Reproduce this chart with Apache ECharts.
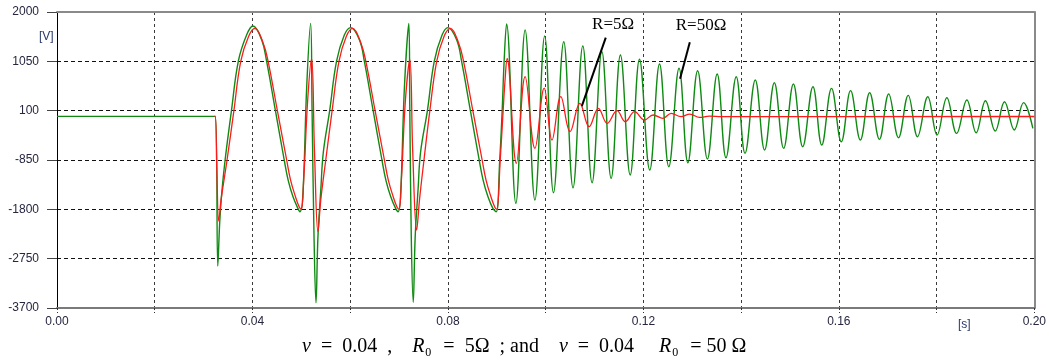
<!DOCTYPE html>
<html><head><meta charset="utf-8">
<script src="https://cdn.jsdelivr.net/npm/echarts@6/dist/echarts.min.js"></script>
<style>html,body{margin:0;padding:0;background:#fff}#c{width:1049px;height:364px}</style>
</head><body><div id="c"></div>
<script>
// ---- tick labels ----
const yTicks = [-3700, -2750, -1800, -850, 100, 1050, 2000];
const xTickLabels = ['0.00', '0.04', '0.08', '0.12', '0.16', '0.20'];
const xGridStep = 0.02;

// ---- R0 = 50 Ohm (green) : [time s, voltage V] ----
const greenStart = [[0, -10], [0.0324, -10]];
const greenHumps = [
  [0.0329, -2890], [0.0333, -2050], [0.0337, -1500], [0.0344, -850], [0.0357, 100], [0.0371, 1050], [0.0388, 1557], [0.0401, 1730],
  [0.0419, 1461], [0.0429, 1050], [0.0447, 100], [0.0465, -850], [0.0473, -1236], [0.0483, -1557], [0.0493, -1781], [0.0497, -1846],
  [0.0503, -1550], [0.0511, 560], [0.0519, 1780], [0.0522, 100], [0.0526, -2330], [0.0530, -3600],
  [0.0534, -2330], [0.0540, -1400], [0.0545, -700], [0.0558, 100], [0.0572, 1050], [0.0588, 1557], [0.0601, 1700],
  [0.0619, 1461], [0.0629, 1050], [0.0647, 100], [0.0665, -850], [0.0673, -1236], [0.0683, -1557], [0.0693, -1781], [0.0698, -1846],
  [0.0703, -1550], [0.0711, 560], [0.0720, 1780], [0.0722, 100], [0.0725, -2330], [0.0729, -3590],
  [0.0733, -2330], [0.0739, -1400], [0.0744, -700], [0.0758, 100], [0.0772, 1050], [0.0788, 1557], [0.0800, 1700],
  [0.0818, 1461], [0.0828, 1050], [0.0846, 100], [0.0864, -850], [0.0872, -1236], [0.0882, -1557], [0.0892, -1781], [0.0899, -1846],
  [0.0906, -850], [0.0911, 100], [0.0915, 1050]
];
const greenRinging = [
  [0.0920, 1769], [0.0939, -1684], [0.0958, 1653], [0.0978, -1621], [0.0998, 1538], [0.1016, -1480], [0.1037, 1428], [0.1056, -1384],
  [0.1076, 1345], [0.1095, -1288], [0.1115, 1236], [0.1134, -1203], [0.1153, 1172], [0.1173, -1139], [0.1192, 1089], [0.1213, -1043],
  [0.1233, 998], [0.1252, -979], [0.1273, 916], [0.1291, -902], [0.1311, 870], [0.1331, -831], [0.1351, 806], [0.1369, -806],
  [0.1390, 754], [0.1408, -722], [0.1429, 690], [0.1448, -658], [0.1468, 639], [0.1487, -625], [0.1507, 613], [0.1526, -594],
  [0.1547, 562], [0.1565, -562], [0.1585, 530], [0.1605, -498], [0.1624, 485], [0.1644, -465], [0.1663, 446], [0.1683, -452],
  [0.1702, 421], [0.1722, -421], [0.1742, 395], [0.1761, -401], [0.1782, 369], [0.1801, -369], [0.1821, 350], [0.1841, -337],
  [0.1862, 305], [0.1881, -325], [0.1900, 292], [0.1920, -292], [0.1939, 273], [0.1959, -273], [0.1978, 254], [0.1997, -240]
];

// ---- R0 = 5 Ohm (red) ----
const redStart = [[0.0322, -10], [0.0324, -10]];
const redHumps = [
  [0.0327, -1000], [0.0331, -2025], [0.0336, -1600], [0.0348, -850], [0.0362, 100], [0.0376, 1050], [0.0392, 1530], [0.0405, 1686],
  [0.0422, 1400], [0.0432, 1050], [0.0451, 100], [0.0470, -850], [0.0478, -1236], [0.0488, -1557], [0.0496, -1760], [0.0500, -1800],
  [0.0505, -1200], [0.0513, 300], [0.0521, 1108], [0.0527, -700], [0.0534, -2231],
  [0.0540, -1600], [0.0550, -850], [0.0563, 100], [0.0577, 1050], [0.0592, 1530], [0.0605, 1686],
  [0.0622, 1400], [0.0632, 1050], [0.0651, 100], [0.0670, -850], [0.0678, -1236], [0.0688, -1557], [0.0696, -1760], [0.0700, -1800],
  [0.0705, -1200], [0.0713, 300], [0.0722, 1089], [0.0728, -700], [0.0736, -2199],
  [0.0742, -1600], [0.0751, -850], [0.0763, 100], [0.0777, 1050], [0.0792, 1530], [0.0805, 1686],
  [0.0822, 1400], [0.0832, 1050], [0.0851, 100], [0.0870, -850], [0.0878, -1236], [0.0888, -1557], [0.0896, -1760], [0.0900, -1800],
  [0.0907, -850], [0.0913, 100], [0.0917, 700]
];
const redRinging = [
  [0.0921, 1108], [0.0940, -914], [0.0958, 754], [0.0978, -625], [0.0997, 536], [0.1013, -465], [0.1031, 369], [0.1050, -305],
  [0.1070, 242], [0.1089, -209], [0.1108, 146], [0.1126, -144], [0.1146, 100], [0.1163, -113], [0.1182, 81], [0.1202, -80],
  [0.1220, 17], [0.1240, -47], [0.1257, 49], [0.1277, -16], [0.1295, 35], [0.1315, -30], [0.1335, -5], [0.1360, -15], [0.2000, -12]
];

// ---- annotations (data coordinates) ----
const annoLabels = ['R=5Ω', 'R=50Ω'];
const annoLabelAt = [[0.1138, 1759], [0.1318, 1730]];
const annoLines = [
  [[0.1123, 1505], [0.1074, 189]],
  [[0.1295, 1416], [0.1275, 715]]
];

const green = greenStart.concat(greenHumps, greenRinging);
const red = redStart.concat(redHumps, redRinging);

const serif = 'Liberation Serif, Times New Roman, serif';
const labelFont = { fontFamily: 'Liberation Sans, Arial, sans-serif', fontSize: 12, color: '#262640' };

const chart = echarts.init(document.getElementById('c'), null, { renderer: 'canvas' });
chart.setOption({
  animation: false,
  backgroundColor: '#fff',
  grid: { left: 57, right: 14, top: 12, bottom: 56, containLabel: false },
  xAxis: [{
    type: 'value', min: 0, max: 0.2, interval: xGridStep,
    axisLine: { show: true, onZero: false, lineStyle: { color: '#7a7a7a', width: 2 } },
    axisTick: { show: true, length: 5, lineStyle: { color: '#333', type: [2, 2] } },
    axisLabel: Object.assign({ margin: 8, formatter: v => { const s = v.toFixed(2); return xTickLabels.includes(s) ? s : ''; } }, labelFont),
    splitLine: { show: true, lineStyle: { color: '#3a3a3a', type: [3, 3], width: 1 } }
  }, {
    type: 'value', position: 'top', min: 0, max: 0.2,
    axisLine: { show: true, onZero: false, lineStyle: { color: '#8a8a8a', width: 2 } },
    axisTick: { show: false }, axisLabel: { show: false }, splitLine: { show: false }
  }],
  yAxis: [{
    type: 'value', min: yTicks[0], max: yTicks[yTicks.length - 1], interval: yTicks[1] - yTicks[0],
    axisLine: { show: true, onZero: false, lineStyle: { color: '#000', width: 1 } },
    axisTick: { show: true, length: 10, lineStyle: { color: '#444' } },
    axisLabel: Object.assign({ margin: 18, formatter: v => String(v) }, labelFont),
    splitLine: { show: true, lineStyle: { color: '#111', type: [4, 3], width: 1 } }
  }, {
    type: 'value', position: 'right', min: yTicks[0], max: yTicks[yTicks.length - 1],
    axisLine: { show: true, onZero: false, lineStyle: { color: '#8a8a8a', width: 2 } },
    axisTick: { show: false }, axisLabel: { show: false }, splitLine: { show: false }
  }],
  series: [{
    name: 'R=50Ω', type: 'line', data: green, smooth: 0.4, showSymbol: false, symbol: 'none',
    lineStyle: { color: '#0f8a12', width: 1.4 }, z: 3
  }, {
    name: 'R=5Ω', type: 'line', data: red, smooth: 0.4, showSymbol: false, symbol: 'none',
    lineStyle: { color: '#ff1a1a', width: 1.3 }, z: 4,
    markLine: {
      silent: true, symbol: ['none', 'none'], animation: false,
      lineStyle: { color: '#000', width: 2, type: 'solid' }, label: { show: false },
      data: annoLines.map(l => [{ coord: l[0] }, { coord: l[1] }])
    },
    markPoint: {
      silent: true, symbol: 'circle', symbolSize: 1, itemStyle: { color: 'rgba(0,0,0,0)' }, animation: false,
      label: { show: true, position: 'inside', formatter: p => p.name, fontFamily: serif, fontSize: 17, color: '#000' },
      data: annoLabels.map((t, i) => ({ name: t, coord: annoLabelAt[i] }))
    }
  }],
  graphic: [
    { type: 'text', left: 39, top: 31, style: { text: '[V]', fontFamily: 'Liberation Sans, Arial', fontSize: 12, fill: '#2a3a6a' } },
    { type: 'text', left: 958, top: 319, style: { text: '[s]', fontFamily: 'Liberation Sans, Arial', fontSize: 12, fill: '#2a3a6a' } },
    { type: 'text', left: 302, top: 337, style: {
        text: '{i|ν}  =  0.04  ,    {i|R}{s|0}  =  5Ω  ; and    {i|ν}  =  0.04     {i|R}{s|0}  = 50 Ω',
        fontFamily: serif, fontSize: 20, fill: '#000',
        rich: {
          i: { fontStyle: 'italic', fontFamily: serif, fontSize: 20 },
          s: { fontFamily: serif, fontSize: 12, padding: [12, 2, 0, 1] }
        }
      } }
  ]
});
</script>
</body></html>
